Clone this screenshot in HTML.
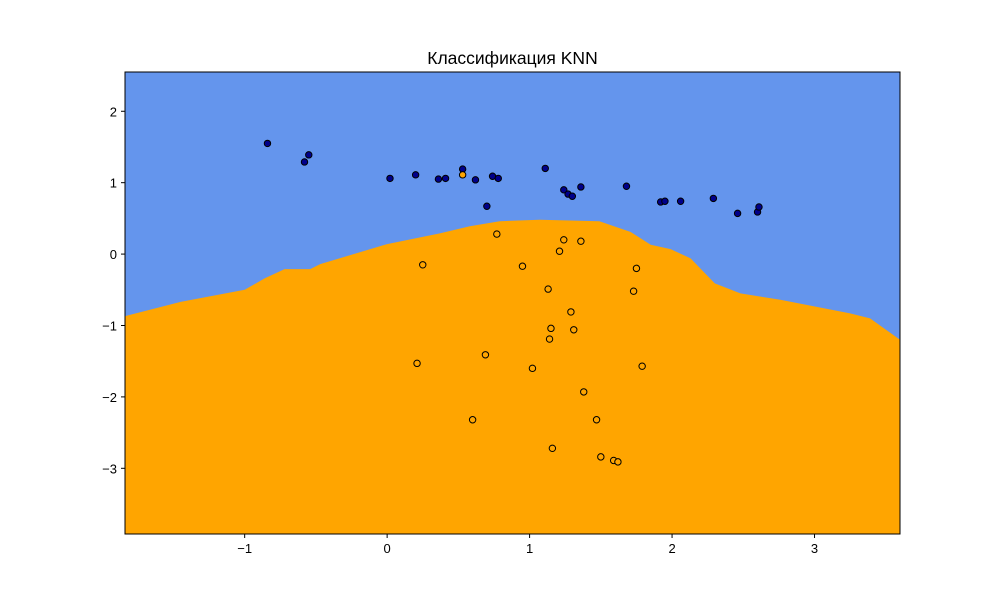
<!DOCTYPE html>
<html><head><meta charset="utf-8"><style>
body{margin:0;background:#fff;}
svg{display:block;font-family:"Liberation Sans","DejaVu Sans",sans-serif;}
</style></head><body>
<svg id="chart" width="1000" height="600"></svg>
<script>
const xTicks=[-1,0,1,2,3];
const yTicks=[2,1,0,-1,-2,-3];
const boundaryX=[-1.84,-1.45,-1.0,-0.86,-0.72,-0.54,-0.47,0,0.37,0.58,0.79,1.07,1.49,1.71,1.85,1.99,2.13,2.30,2.48,2.76,3.25,3.39,3.6];
const boundaryY=[-0.87,-0.67,-0.50,-0.34,-0.21,-0.21,-0.14,0.14,0.29,0.39,0.46,0.48,0.46,0.31,0.13,0.07,-0.06,-0.41,-0.55,-0.64,-0.83,-0.90,-1.20];
const class0X=[-0.84,-0.58,-0.55,0.02,0.20,0.36,0.41,0.53,0.62,0.70,0.74,0.78,1.11,1.24,1.27,1.30,1.36,1.68,1.92,1.95,2.06,2.29,2.46,2.60,2.61];
const class0Y=[1.55,1.29,1.39,1.06,1.11,1.05,1.06,1.19,1.04,0.67,1.09,1.06,1.20,0.90,0.84,0.81,0.94,0.95,0.73,0.74,0.74,0.78,0.57,0.59,0.66];
const class1X=[0.53,0.25,0.77,0.95,1.24,1.36,1.21,1.75,1.13,1.73,1.29,1.15,1.31,1.14,0.21,0.69,1.02,1.79,1.38,0.60,1.47,1.16,1.50,1.59,1.62];
const class1Y=[1.11,-0.15,0.28,-0.17,0.20,0.18,0.04,-0.20,-0.49,-0.52,-0.81,-1.04,-1.06,-1.19,-1.53,-1.41,-1.60,-1.57,-1.93,-2.32,-2.32,-2.72,-2.84,-2.89,-2.91];

const L=125,R=900,T=72,B=534,xmin=-1.84,xmax=3.6,ymin=-3.92,ymax=2.55;
const sx=v=>L+(v-xmin)/(xmax-xmin)*(R-L);
const sy=v=>B-(v-ymin)/(ymax-ymin)*(B-T);
const NS="http://www.w3.org/2000/svg";
const svg=document.getElementById('chart');
function mk(tag,attrs,parent){const e=document.createElementNS(NS,tag);for(const k in attrs)e.setAttribute(k,attrs[k]);(parent||svg).appendChild(e);return e;}

const bg=mk('rect',{x:L,y:T,width:R-L,height:B-T,fill:'#FFA500'});


let d=`M${L},${T} L${R},${T} `;
for(let i=boundaryX.length-1;i>=0;i--)d+=`L${sx(boundaryX[i]).toFixed(1)},${sy(boundaryY[i]).toFixed(1)} `;
d+='Z';
const blue=mk('path',{d:d,fill:'#6495ED'});



for(let i=0;i<class0X.length;i++){
  const c=mk('circle',{cx:sx(class0X[i]),cy:sy(class0Y[i]),r:3.2,fill:'#00008B',stroke:'#000','stroke-width':1});
  
  
}
for(let i=0;i<class1X.length;i++){
  const c=mk('circle',{cx:sx(class1X[i]),cy:sy(class1Y[i]),r:3.2,fill:'#FFA500',stroke:'#000','stroke-width':1});
  
  
}
const frame=mk('rect',{x:L,y:T,width:R-L,height:B-T,fill:'none',stroke:'#000','stroke-width':1});



xTicks.forEach(t=>{
  const x=sx(t);
  const tk=mk('line',{x1:x,x2:x,y1:B,y2:B+4,stroke:'#000'});
  
  
  const tx=mk('text',{x:x,y:B+19,'text-anchor':'middle','font-size':13,fill:'#000'});
  tx.textContent=t<0?'−'+Math.abs(t):String(t);
  
  
});
yTicks.forEach(t=>{
  const y=sy(t);
  const tk=mk('line',{x1:L-4,x2:L,y1:y,y2:y,stroke:'#000'});
  
  
  const tx=mk('text',{x:L-8,y:y+5,'text-anchor':'end','font-size':13,fill:'#000'});
  tx.textContent=t<0?'−'+Math.abs(t):String(t);
  
  
});
const title=mk('text',{x:(L+R)/2,y:64,'text-anchor':'middle','font-size':17.5,fill:'#000'});
title.textContent='Классификация KNN';


</script>
</body></html>
